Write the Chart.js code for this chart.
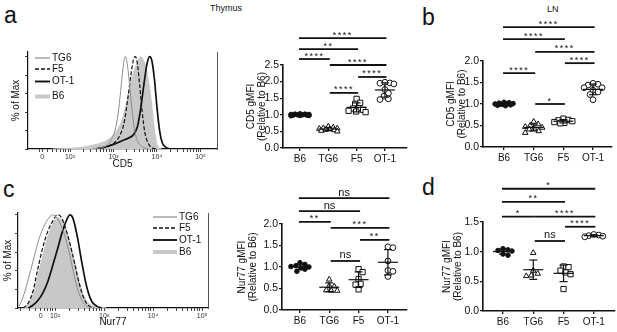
<!DOCTYPE html>
<html>
<head>
<meta charset="utf-8">
<title>CD5 and Nur77 expression</title>
<script src="https://cdn.jsdelivr.net/npm/chart.js@4.4.1/dist/chart.umd.min.js"></script>
<style>
  body { margin: 0; background: #fff; }
  #fig { position: relative; width: 617px; height: 332px; overflow: hidden; font-family: "Liberation Sans", Arial, sans-serif; color: #111; }
  #fig canvas { position: absolute; }
  .tag { position: absolute; line-height: 1; white-space: nowrap; }
</style>
</head>
<body>
<div id="fig">
  <div class="tag" style="left:4px; top:4px; font-size:23px">a</div>
  <div class="tag" style="left:422px; top:6px; font-size:23px">b</div>
  <div class="tag" style="left:3px; top:178px; font-size:23px">c</div>
  <div class="tag" style="left:422px; top:176px; font-size:23px">d</div>
  <div class="tag" style="left:210px; top:4px; font-size:9px">Thymus</div>
  <div class="tag" style="left:547px; top:5px; font-size:9px">LN</div>
  <canvas id="histCD5"></canvas>
  <canvas id="histNur77"></canvas>
  <canvas id="dotThyCD5"></canvas>
  <canvas id="dotLnCD5"></canvas>
  <canvas id="dotThyNur77"></canvas>
  <canvas id="dotLnNur77"></canvas>
</div>
<script>
const FONT = '"Liberation Sans", Arial, sans-serif'
Chart.defaults.font.family = FONT
Chart.defaults.color = '#111'
Chart.defaults.animation = false
Chart.defaults.plugins.legend.display = false
Chart.defaults.plugins.tooltip.enabled = false

const groups = ['B6', 'TG6', 'F5', 'OT-1']
const histOrder = ['TG6', 'F5', 'OT-1', 'B6']

// histogram x is in decades (10^2 -> 2); the "0" of the biexponential axis sits left of 10^2
const decadeLabels = ['0', '10²', '10³', '10⁴', '10⁵']
const cd5TickValues = [1.36, 2, 3, 4, 5]
const nur77TickValues = [1.71, 2, 3, 4, 5]

// % of max as [decade, percent]
const cd5TG6 = [[2.5, 0], [2.7, 1], [2.85, 4], [2.95, 10], [3.05, 23], [3.12, 43], [3.18, 70], [3.23, 92], [3.27, 100], [3.31, 94], [3.36, 74], [3.42, 45], [3.48, 22], [3.55, 9], [3.65, 3], [3.8, 0]]
const cd5F5 = [[2.6, 0], [2.8, 2], [3.0, 6], [3.15, 15], [3.25, 30], [3.33, 55], [3.4, 80], [3.46, 97], [3.5, 100], [3.55, 92], [3.6, 70], [3.66, 40], [3.72, 18], [3.8, 6], [3.9, 1], [4.0, 0]]
const cd5OT1 = [[2.6, 0], [2.8, 2], [3.0, 5], [3.2, 9], [3.35, 12], [3.45, 15], [3.55, 24], [3.62, 42], [3.7, 70], [3.77, 92], [3.83, 100], [3.88, 96], [3.94, 76], [4.0, 45], [4.06, 20], [4.12, 7], [4.2, 2], [4.3, 0]]
const cd5B6 = [[1.6, 0], [1.9, 0.5], [2.2, 1.5], [2.4, 3], [2.6, 5], [2.8, 8], [2.95, 13], [3.08, 20], [3.2, 32], [3.3, 50], [3.4, 72], [3.48, 86], [3.55, 93], [3.62, 100], [3.68, 97], [3.74, 90], [3.8, 75], [3.86, 55], [3.92, 30], [3.97, 12], [4.02, 3], [4.1, 0]]

const nur77TG6 = [[1.27, 2], [1.35, 12], [1.45, 30], [1.55, 50], [1.65, 70], [1.75, 85], [1.85, 95], [1.95, 100], [2.05, 96], [2.15, 85], [2.25, 68], [2.35, 45], [2.45, 22], [2.55, 8], [2.65, 2], [2.75, 0]]
const nur77F5 = [[1.35, 0], [1.45, 5], [1.55, 18], [1.65, 42], [1.75, 65], [1.85, 82], [1.95, 93], [2.05, 100], [2.12, 98], [2.2, 88], [2.3, 70], [2.4, 48], [2.5, 25], [2.6, 9], [2.7, 2], [2.8, 0]]
const nur77OT1 = [[1.45, 0], [1.55, 3], [1.65, 8], [1.75, 16], [1.85, 28], [1.95, 45], [2.05, 63], [2.15, 82], [2.25, 96], [2.3, 100], [2.36, 97], [2.45, 78], [2.55, 48], [2.65, 22], [2.75, 7], [2.85, 2], [2.95, 0]]
const nur77B6 = [[1.35, 0], [1.45, 4], [1.55, 14], [1.65, 34], [1.75, 56], [1.85, 76], [1.95, 90], [2.05, 97], [2.15, 93], [2.25, 80], [2.35, 60], [2.45, 38], [2.55, 18], [2.65, 7], [2.75, 3], [2.9, 1], [3.05, 0]]

// gMFI relative to B6, one array per group
const thyCD5B6 = [1.03, 1.02, 1.02, 1.01, 1.0, 1.0, 0.99, 0.99, 0.98, 0.98, 0.97, 1.01]
const thyCD5TG6 = [0.65, 0.62, 0.6, 0.59, 0.58, 0.57, 0.55, 0.54, 0.52, 0.5]
const thyCD5F5 = [1.48, 1.36, 1.33, 1.2, 1.19, 1.15, 1.12, 1.1, 1.08]
const thyCD5OT1 = [1.98, 1.96, 1.95, 1.93, 1.76, 1.65, 1.56, 1.48, 1.46]

const lnCD5B6 = [1.04, 1.03, 1.02, 1.01, 1.0, 1.0, 0.99, 0.98, 0.97, 0.96]
const lnCD5TG6 = [0.59, 0.53, 0.5, 0.47, 0.45, 0.43, 0.41, 0.37, 0.33]
const lnCD5F5 = [0.66, 0.63, 0.62, 0.6, 0.58, 0.56, 0.55]
const lnCD5OT1 = [1.48, 1.46, 1.44, 1.38, 1.38, 1.32, 1.28, 1.22, 1.1]

const thyNur77B6 = [1.1, 1.06, 1.03, 1.01, 1.0, 0.98, 0.95, 0.9]
const thyNur77TG6 = [0.71, 0.56, 0.55, 0.46, 0.45, 0.45]
const thyNur77F5 = [0.95, 0.88, 0.72, 0.61, 0.59, 0.48]
const thyNur77OT1 = [1.47, 1.45, 1.14, 0.92, 0.9, 0.78]

const lnNur77B6 = [1.05, 1.03, 1.02, 1.01, 0.96, 0.94]
const lnNur77TG6 = [0.98, 0.68, 0.63, 0.6, 0.59]
const lnNur77F5 = [0.75, 0.74, 0.68, 0.65, 0.62, 0.37]
const lnNur77OT1 = [1.29, 1.28, 1.27, 1.26, 1.25]

// significance bars: [from group, to group, height in axis units, label]
const thyCD5Sig = [[0, 3, 3.31, '****'], [0, 2, 2.98, '**'], [0, 1, 2.68, '****'], [1, 3, 2.5, '****'], [2, 3, 2.14, '****'], [1, 2, 1.66, '****']]
const lnCD5Sig = [[0, 3, 2.79, '****'], [0, 2, 2.51, '****'], [1, 3, 2.21, '****'], [2, 3, 1.95, '****'], [0, 1, 1.72, '****'], [1, 2, 1.0, '*']]
const thyNur77Sig = [[0, 3, 2.6, 'ns'], [0, 2, 2.3, 'ns'], [0, 1, 2.05, '**'], [1, 3, 1.91, '***'], [2, 3, 1.63, '**'], [1, 2, 1.14, 'ns']]
const lnNur77Sig = [[0, 3, 2.06, '*'], [0, 2, 1.84, '**'], [0, 1, 1.59, '*'], [1, 3, 1.59, '****'], [2, 3, 1.42, '****'], [1, 2, 1.18, 'ns']]

const histStyle = {
  TG6: { color: '#8d8d8d', width: 1 },
  F5: { color: '#111', width: 1.2, dash: [4, 2] },
  'OT-1': { color: '#111', width: 1.7 },
  B6: { color: '#c8c8c8', width: 1, fill: true }
}

const markStyle = {
  B6: { pointStyle: 'circle', radius: 2.3, fill: '#111' },
  TG6: { pointStyle: 'triangle', radius: 3.2, fill: '#fff' },
  F5: { pointStyle: 'rect', radius: 3.7, fill: '#fff' },
  'OT-1': { pointStyle: 'circle', radius: 2.9, fill: '#fff' }
}

function place(canvas, box) {
  canvas.width = box.w
  canvas.height = box.h
  canvas.style.left = box.x + 'px'
  canvas.style.top = box.y + 'px'
}

function drawHistogram(id, box, area, cfg) {
  const canvas = document.getElementById(id)
  place(canvas, box)

  const minor = []
  for (let n = 1; n <= 4; n++) for (let k = 2; k <= 9; k++) minor.push(n + Math.log10(k))
  const tickValues = cfg.ticks.concat(minor.filter(v => v > cfg.xMin && v < cfg.xMax))

  const datasets = histOrder.map((name, i) => {
    const st = histStyle[name]
    return {
      label: name,
      data: cfg.series[name].map(([x, y]) => ({ x, y })),
      borderColor: st.color,
      borderWidth: st.width,
      borderDash: st.dash || [],
      backgroundColor: st.color,
      fill: st.fill ? 'origin' : false,
      pointRadius: 0,
      cubicInterpolationMode: 'monotone',
      order: i
    }
  })

  // legend drawn inside the plot, like the FlowJo overlay
  const legend = {
    id: 'histLegend',
    afterDraw(chart) {
      const ctx = chart.ctx
      ctx.save()
      ctx.font = `10px ${FONT}`
      ctx.textBaseline = 'middle'
      histOrder.forEach((name, i) => {
        const st = histStyle[name]
        const y = cfg.legend.rows[i] - box.y
        ctx.beginPath()
        ctx.setLineDash(st.dash || [])
        ctx.lineWidth = st.fill ? 4 : st.width + 0.2
        ctx.strokeStyle = st.color
        ctx.moveTo(cfg.legend.x0 - box.x, y)
        ctx.lineTo(cfg.legend.x1 - box.x, y)
        ctx.stroke()
        ctx.setLineDash([])
        ctx.fillStyle = '#111'
        ctx.fillText(name, cfg.legend.tx - box.x, y)
      })
      ctx.restore()
    }
  }

  return new Chart(canvas, {
    type: 'line',
    data: { datasets },
    options: {
      responsive: false,
      layout: { autoPadding: false, padding: { left: 0, top: area.top - box.y, right: box.x + box.w - area.right, bottom: 0 } },
      scales: {
        x: {
          type: 'linear', min: cfg.xMin, max: cfg.xMax, z: 1,
          afterBuildTicks: s => { s.ticks = tickValues.map(value => ({ value })) },
          afterFit: s => { s.height = box.y + box.h - area.bottom },
          ticks: {
            autoSkip: false, maxRotation: 0, padding: 1, color: '#333', font: { size: 7 },
            callback: v => { const k = cfg.ticks.indexOf(v); return k < 0 ? '' : decadeLabels[k] }
          },
          grid: { drawOnChartArea: false, tickLength: 3, color: '#444' },
          border: { color: '#111', width: 1.2 },
          title: { display: true, text: cfg.xTitle, font: { size: 10 }, padding: { top: 0, bottom: cfg.xTitlePad } }
        },
        y: {
          type: 'linear', min: 0, max: cfg.yMax, z: 1,
          afterBuildTicks: s => { s.ticks = [0, 20, 40, 60, 80, 100].map(value => ({ value })) },
          afterFit: s => { s.width = area.left - box.x },
          ticks: { callback: () => '' },
          grid: { drawOnChartArea: false, tickLength: 3, color: '#444' },
          border: { color: '#111', width: 1.2 },
          title: { display: true, text: '% of Max', font: { size: 10 }, padding: { top: cfg.yTitlePad, bottom: 0 } }
        },
        frame: {
          type: 'linear', position: 'right', min: 0, max: 1,
          afterFit: s => { s.width = 0 },
          ticks: { display: false },
          grid: { display: false },
          border: { color: '#555', width: 1 }
        }
      }
    },
    plugins: [legend]
  })
}

// spread points of one group sideways so they overlap as little as possible
function swarmOffsets(values, pxPerY) {
  const D = 5
  const HALF = 9
  const cands = [0]
  for (let s = 0.5; s <= HALF; s += 0.5) cands.push(s, -s)
  const idx = values.map((_, i) => i).sort((a, b) => values[b] - values[a])
  const placed = []
  const offs = []
  idx.forEach(i => {
    const py = values[i] * pxPerY
    let best = 0
    let bestCost = Infinity
    for (const dx of cands) {
      let cost = 0
      for (const [qx, qy] of placed) {
        const d = Math.hypot(dx - qx, py - qy)
        if (d < D) cost += (D - d) * (D - d)
      }
      if (cost < bestCost - 1e-9) { bestCost = cost; best = dx }
      if (cost === 0) break
    }
    placed.push([best, py])
    offs[i] = best
  })
  return offs
}

const mean = a => a.reduce((s, v) => s + v, 0) / a.length
const stdev = a => { const m = mean(a); return Math.sqrt(a.reduce((s, v) => s + (v - m) ** 2, 0) / (a.length - 1)) }

function drawDotPlot(id, box, area, cfg) {
  const canvas = document.getElementById(id)
  place(canvas, box)
  const pxPerX = (area.right - area.left) / (cfg.xMax - cfg.xMin)
  const pxPerY = (area.bottom - area.top) / cfg.yMax

  const datasets = cfg.values.map((vals, k) => {
    const offs = swarmOffsets(vals, pxPerY)
    const st = markStyle[groups[k]]
    return {
      label: groups[k],
      data: vals.map((v, i) => ({ x: k + offs[i] / pxPerX, y: v })),
      pointStyle: st.pointStyle,
      pointRadius: st.radius,
      pointBackgroundColor: st.fill,
      pointBorderColor: '#111',
      pointBorderWidth: 1
    }
  })

  // mean with SD whiskers
  const stats = {
    id: 'meanSD',
    afterDatasetsDraw(chart) {
      const { ctx, scales: { x, y } } = chart
      ctx.save()
      ctx.strokeStyle = '#111'
      ctx.lineWidth = 1.2
      const seg = (x0, y0, x1, y1) => { ctx.beginPath(); ctx.moveTo(x0, y0); ctx.lineTo(x1, y1); ctx.stroke() }
      cfg.values.forEach((vals, k) => {
        const m = mean(vals)
        const sd = stdev(vals)
        const cx = x.getPixelForValue(k)
        const ym = y.getPixelForValue(m)
        const yt = y.getPixelForValue(m + sd)
        const yb = y.getPixelForValue(m - sd)
        seg(cx - 10, ym, cx + 10, ym)
        seg(cx, yt, cx, yb)
        seg(cx - 4, yt, cx + 4, yt)
        seg(cx - 4, yb, cx + 4, yb)
      })
      ctx.restore()
    }
  }

  const sig = {
    id: 'sigBars',
    afterDraw(chart) {
      const { ctx, scales: { x, y } } = chart
      ctx.save()
      ctx.strokeStyle = '#111'
      ctx.fillStyle = '#111'
      ctx.lineWidth = 1.8
      ctx.textAlign = 'center'
      ctx.textBaseline = 'alphabetic'
      cfg.sig.forEach(([a, b, h, label]) => {
        const x0 = x.getPixelForValue(a) + (a > 0 ? 1.5 : -1)
        const x1 = x.getPixelForValue(b) + 1.5
        const yy = y.getPixelForValue(h)
        ctx.beginPath()
        ctx.moveTo(x0, yy)
        ctx.lineTo(x1, yy)
        ctx.stroke()
        const star = label.includes('*')
        ctx.font = `${star ? 9 : 11}px ${FONT}`
        ctx.letterSpacing = star ? '1.5px' : '0px'
        ctx.fillText(label, (x0 + x1) / 2, yy + (star ? -0.5 : -2.5))
      })
      ctx.restore()
    }
  }

  const axisLine = { drawOnChartArea: false, tickLength: 3, color: '#111', lineWidth: 1.3 }

  return new Chart(canvas, {
    type: 'scatter',
    data: { datasets },
    options: {
      responsive: false,
      layout: { autoPadding: false, padding: { left: 0, top: area.top - box.y, right: box.x + box.w - area.right, bottom: 0 } },
      scales: {
        x: {
          type: 'linear', min: cfg.xMin, max: cfg.xMax,
          afterBuildTicks: s => { s.ticks = groups.map((g, value) => ({ value })) },
          afterFit: s => { s.height = box.y + box.h - area.bottom },
          ticks: { autoSkip: false, maxRotation: 0, padding: 2, font: { size: 10 }, callback: (v, i) => groups[i] },
          grid: axisLine,
          border: { color: '#111', width: 1.6 }
        },
        y: {
          type: 'linear', min: 0, max: cfg.yMax,
          afterFit: s => { s.width = area.left - box.x },
          ticks: { stepSize: 0.5, padding: 1, font: { size: 10.5 }, callback: v => v.toFixed(1) },
          grid: axisLine,
          border: { color: '#111', width: 1.6 },
          title: { display: true, text: cfg.yTitle, font: { size: 10, lineHeight: 1.05 }, padding: { top: cfg.titlePad, bottom: 0 } }
        }
      }
    },
    plugins: [stats, sig]
  })
}

drawHistogram('histCD5', { x: 0, y: 30, w: 220, h: 142 }, { left: 28, top: 52, right: 217, bottom: 149 }, {
  series: { TG6: cd5TG6, F5: cd5F5, 'OT-1': cd5OT1, B6: cd5B6 },
  xMin: 1.034, xMax: 5.38, yMax: 104.9,
  ticks: cd5TickValues, xTitle: 'CD5', xTitlePad: 2, yTitlePad: 10,
  legend: { x0: 35, x1: 50, tx: 52, rows: [58, 69, 81.5, 96.5] }
})

drawHistogram('histNur77', { x: 0, y: 200, w: 212, h: 132 }, { left: 18, top: 213, right: 208, bottom: 308 }, {
  series: { TG6: nur77TG6, F5: nur77F5, 'OT-1': nur77OT1, B6: nur77B6 },
  xMin: 1.245, xMax: 5.12, yMax: 102,
  ticks: nur77TickValues, xTitle: 'Nur77', xTitlePad: 4, yTitlePad: 2,
  legend: { x0: 153, x1: 177, tx: 179, rows: [217, 228, 240, 252] }
})

drawDotPlot('dotThyCD5', { x: 230, y: 20, w: 180, h: 150 }, { left: 283, top: 65, right: 407, bottom: 148 }, {
  values: [thyCD5B6, thyCD5TG6, thyCD5F5, thyCD5OT1], sig: thyCD5Sig,
  xMin: -0.6, xMax: 3.78, yMax: 2.5, yTitle: ['CD5 gMFI', '(Relative to B6)'], titlePad: 16
})

drawDotPlot('dotLnCD5', { x: 430, y: 10, w: 187, h: 160 }, { left: 483, top: 61, right: 612, bottom: 147 }, {
  values: [lnCD5B6, lnCD5TG6, lnCD5F5, lnCD5OT1], sig: lnCD5Sig,
  xMin: -0.71, xMax: 3.64, yMax: 2.0, yTitle: ['CD5 gMFI', '(Relative to B6)'], titlePad: 16
})

drawDotPlot('dotThyNur77', { x: 230, y: 180, w: 180, h: 152 }, { left: 282, top: 224, right: 407, bottom: 310 }, {
  values: [thyNur77B6, thyNur77TG6, thyNur77F5, thyNur77OT1], sig: thyNur77Sig,
  xMin: -0.61, xMax: 3.65, yMax: 2.0, yTitle: ['Nur77 gMFI', '(Relative to B6)'], titlePad: 7
})

drawDotPlot('dotLnNur77', { x: 430, y: 172, w: 187, h: 160 }, { left: 483, top: 222, right: 615, bottom: 311 }, {
  values: [lnNur77B6, lnNur77TG6, lnNur77F5, lnNur77OT1], sig: lnNur77Sig,
  xMin: -0.66, xMax: 3.7, yMax: 1.5, yTitle: ['Nur77 gMFI', '(Relative to B6)'], titlePad: 12
})
</script>
</body>
</html>
